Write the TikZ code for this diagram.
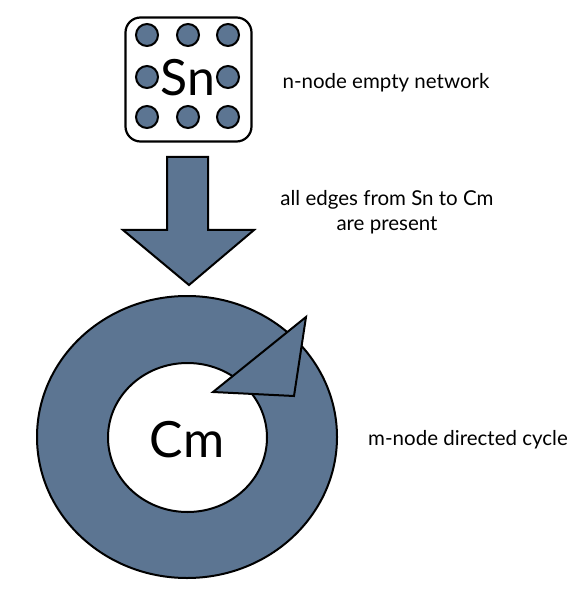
\documentclass[tikz,border=0pt]{standalone}
\usepackage{fontspec}
\setmainfont{Lato}
\usepackage{xcolor}
\usepackage{tikz}
\usetikzlibrary{positioning}
\definecolor{slate}{RGB}{92,117,146}
\tikzset{
  dot/.style={circle, draw, line width=2pt, fill=slate, minimum size=22pt, inner sep=0pt},
  note/.style={font=\fontsize{20.5}{25}\selectfont, align=center},
  big/.style={font=\fontsize{50}{60}\selectfont, inner sep=0pt},
  shape line/.style={line width=2pt, line join=miter, fill=slate}
}

\begin{document}
\begin{tikzpicture}[x=1pt, y=-1pt]
 \useasboundingbox (0,0) rectangle (583,593);
 % empty network
 \node[draw, line width=2.2pt, rounded corners=15pt, minimum width=126pt, minimum height=124pt] (sn box) at (188.5,79.5) {};
 \foreach \x/\y in {147/35, 188/35, 228/35, 147/77, 228/77, 147/117, 188/117, 228/117}
   \node[dot] at (\x,\y) {};
 \node[big] (sn) at (188,78) {Sn};
 \node[note] (empty) at (386,83) {n-node empty network};
 % big arrow
 \draw[shape line] (167,157) -- (208,157) -- (208,230) -- (254,230) -- (189,285) -- (123,230) -- (167,230) -- cycle;
 \node[note] (edges) at (387,212) {all edges from Sn to Cm\\are present};
 % directed cycle
 \fill[slate, even odd rule] (187,437) ellipse [x radius=150, y radius=141] (187.5,437.5) ellipse [x radius=79.5, y radius=74.5];
 \draw[line width=2pt] (187,437) ellipse [x radius=150, y radius=141];
 \draw[line width=2pt] (187.5,437.5) ellipse [x radius=79.5, y radius=74.5];
 \draw[shape line] (213,392) -- (306,317) -- (294,396) -- cycle;
 \node[big] (cm) at (187,440) {Cm};
 \node[note] (cycle) at (468,440) {m-node directed cycle};
\end{tikzpicture}
\end{document}
